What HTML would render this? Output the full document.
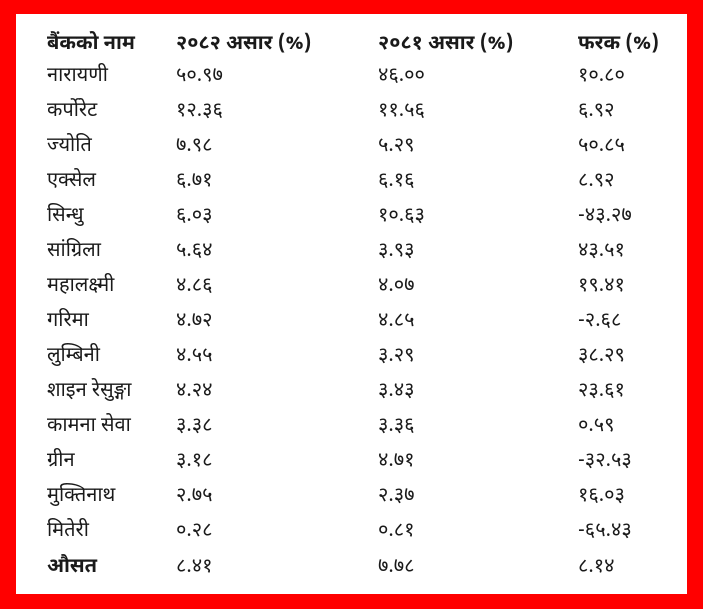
<!DOCTYPE html>
<html><head><meta charset="utf-8"><style>
html,body{margin:0;padding:0;}
body{width:703px;height:609px;background:#f00;position:relative;overflow:hidden;font-family:"Noto Sans Devanagari","Lohit Devanagari","Mukta","Liberation Sans",sans-serif;color:#1a1a1a;}
.w{position:absolute;left:16px;top:14px;width:671px;height:580px;background:#fff;}
.r{position:absolute;left:0;width:703px;height:35px;line-height:35px;font-size:20px;white-space:nowrap;}
.r span{position:absolute;top:0;}
.c1{left:47px}.c2{left:176px}.c3{left:378px}.c4{left:578px}
.b{font-weight:bold}
</style></head><body>
<div class="w"></div>
<div class="r b" style="top:28px"><span class="c1">बैंकको नाम</span><span class="c2">२०८२ असार (%)</span><span class="c3">२०८१ असार (%)</span><span class="c4">फरक (%)</span></div>
<div class="r" style="top:60px"><span class="c1">नारायणी</span><span class="c2">५०.९७</span><span class="c3">४६.००</span><span class="c4">१०.८०</span></div>
<div class="r" style="top:95px"><span class="c1">कर्पोरेट</span><span class="c2">१२.३६</span><span class="c3">११.५६</span><span class="c4">६.९२</span></div>
<div class="r" style="top:130px"><span class="c1">ज्योति</span><span class="c2">७.९८</span><span class="c3">५.२९</span><span class="c4">५०.८५</span></div>
<div class="r" style="top:165px"><span class="c1">एक्सेल</span><span class="c2">६.७१</span><span class="c3">६.१६</span><span class="c4">८.९२</span></div>
<div class="r" style="top:200px"><span class="c1">सिन्धु</span><span class="c2">६.०३</span><span class="c3">१०.६३</span><span class="c4">-४३.२७</span></div>
<div class="r" style="top:235px"><span class="c1">सांग्रिला</span><span class="c2">५.६४</span><span class="c3">३.९३</span><span class="c4">४३.५१</span></div>
<div class="r" style="top:270px"><span class="c1">महालक्ष्मी</span><span class="c2">४.८६</span><span class="c3">४.०७</span><span class="c4">१९.४१</span></div>
<div class="r" style="top:305px"><span class="c1">गरिमा</span><span class="c2">४.७२</span><span class="c3">४.८५</span><span class="c4">-२.६८</span></div>
<div class="r" style="top:340px"><span class="c1">लुम्बिनी</span><span class="c2">४.५५</span><span class="c3">३.२९</span><span class="c4">३८.२९</span></div>
<div class="r" style="top:375px"><span class="c1">शाइन रेसुङ्गा</span><span class="c2">४.२४</span><span class="c3">३.४३</span><span class="c4">२३.६१</span></div>
<div class="r" style="top:410px"><span class="c1">कामना सेवा</span><span class="c2">३.३८</span><span class="c3">३.३६</span><span class="c4">०.५९</span></div>
<div class="r" style="top:445px"><span class="c1">ग्रीन</span><span class="c2">३.१८</span><span class="c3">४.७१</span><span class="c4">-३२.५३</span></div>
<div class="r" style="top:480px"><span class="c1">मुक्तिनाथ</span><span class="c2">२.७५</span><span class="c3">२.३७</span><span class="c4">१६.०३</span></div>
<div class="r" style="top:515px"><span class="c1">मितेरी</span><span class="c2">०.२८</span><span class="c3">०.८१</span><span class="c4">-६५.४३</span></div>
<div class="r" style="top:551px"><span class="c1 b">औसत</span><span class="c2">८.४१</span><span class="c3">७.७८</span><span class="c4">८.१४</span></div>
</body></html>
